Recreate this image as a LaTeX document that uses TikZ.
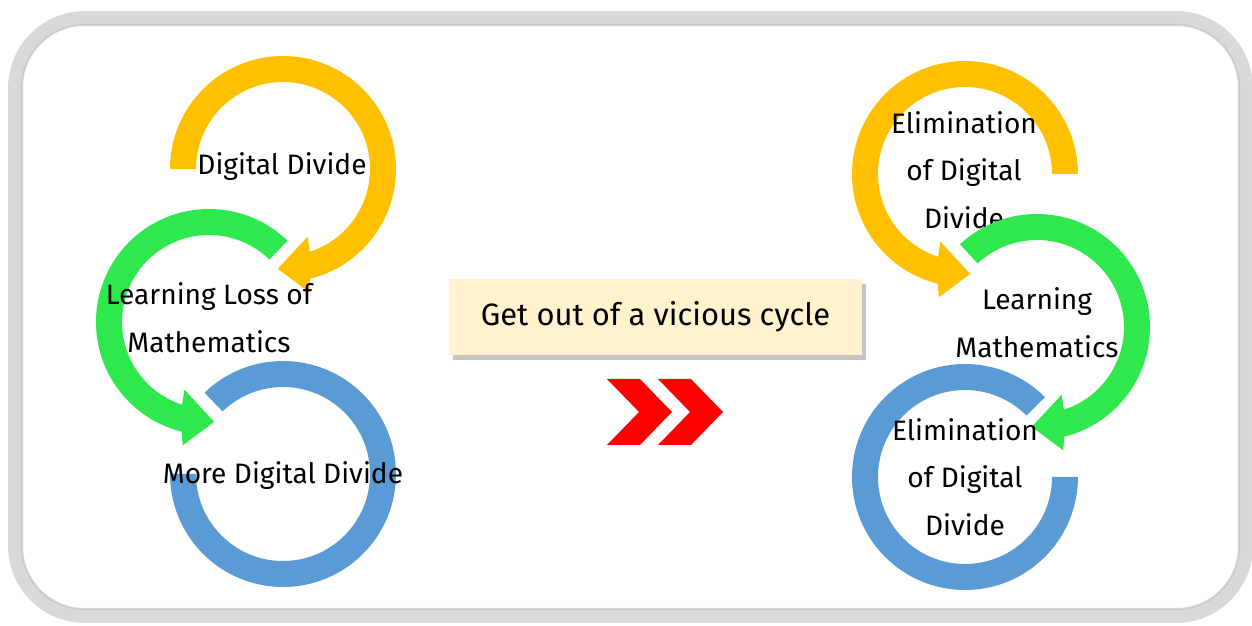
\documentclass[tikz,border=0pt]{standalone}
\usepackage{fontspec}
\setmainfont{Fira Sans}
\usetikzlibrary{shadows}

\definecolor{cycyellow}{HTML}{FFC000}
\definecolor{cycgreen}{RGB}{47,232,77}
\definecolor{cycblue}{HTML}{5B9BD5}
\definecolor{boxfill}{HTML}{FFF2CC}
\definecolor{framegray}{HTML}{D9D9D9}

\tikzset{
  cycle text/.style={font=\fontsize{16}{27.2}\selectfont, align=center, inner sep=0pt},
  exit box/.style={fill=boxfill, minimum width=8.26cm, minimum height=1.52cm,
    font=\fontsize{17.6}{20}\selectfont,
    drop shadow={shadow xshift=2.5pt, shadow yshift=-3pt, fill=black!45, opacity=0.5}},
}

\begin{document}
\begin{tikzpicture}[x=0.02cm, y=0.02cm]
    \useasboundingbox (0,0) rectangle (1252,626);
    \fill[white] (0,0) rectangle (1252,626);

    % frame
    \draw[framegray, line width=7.9pt, rounded corners=1.4cm] (15,10) rectangle (1246,608);
    \draw[black!25, line width=1.2pt, opacity=0.6, rounded corners=1.25cm] (22,17) rectangle (1239,601);

    % vicious cycle
    \fill[cycyellow, shift={(283,457)}] (180:113) arc[start angle=180, end angle=-76, radius=113]
        -- (-78:126) -- (-93:100) -- (-70:72) -- (-72:87) arc[start angle=-72, end angle=180, radius=87] -- cycle;
    \node[cycle text] (dd) at (282,459) {Digital Divide};

    \fill[cycgreen, shift={(209,304)}] (46:113) arc[start angle=46, end angle=256, radius=113]
        -- (258:126) -- (273:100) -- (250:72) -- (252:87) arc[start angle=252, end angle=46, radius=87] -- cycle;
    \node[cycle text] (loss) at (209,308) {Learning Loss of\\Mathematics};

    \fill[cycblue, shift={(283,152)}] (134:113) arc[start angle=134, end angle=-180, radius=113]
        -- (180:87) arc[start angle=-180, end angle=134, radius=87] -- cycle;
    \node[cycle text] (more) at (283,150.5) {More Digital Divide};

    % middle
    \node[exit box] (exit) at (655.5,309) {Get out of a vicious cycle};
    \fill[red] (607,247) -- (640,247) -- (672,214) -- (640,181) -- (607,181) -- (639,214) -- cycle;
    \fill[red] (658,247) -- (691,247) -- (723,214) -- (691,181) -- (658,181) -- (690,214) -- cycle;

    % virtuous cycle
    \fill[cycyellow, shift={(965,452)}] (0:113) arc[start angle=0, end angle=256, radius=113]
        -- (258:126) -- (273:100) -- (250:72) -- (252:87) arc[start angle=252, end angle=0, radius=87] -- cycle;
    \node[cycle text] (elim1) at (964,456) {Elimination\\of Digital\\Divide};

    \fill[cycgreen, shift={(1037,299)}] (133:113) arc[start angle=133, end angle=-76, radius=113]
        -- (-78:126) -- (-93:100) -- (-70:72) -- (-72:87) arc[start angle=-72, end angle=133, radius=87] -- cycle;
    \node[cycle text] (learn) at (1037,303) {Learning\\Mathematics};

    \fill[cycblue, shift={(965,149)}] (45:113) arc[start angle=45, end angle=360, radius=113]
        -- (0:87) arc[start angle=360, end angle=45, radius=87] -- cycle;
    \node[cycle text] (elim2) at (965,149) {Elimination\\of Digital\\Divide};
\end{tikzpicture}
\end{document}
